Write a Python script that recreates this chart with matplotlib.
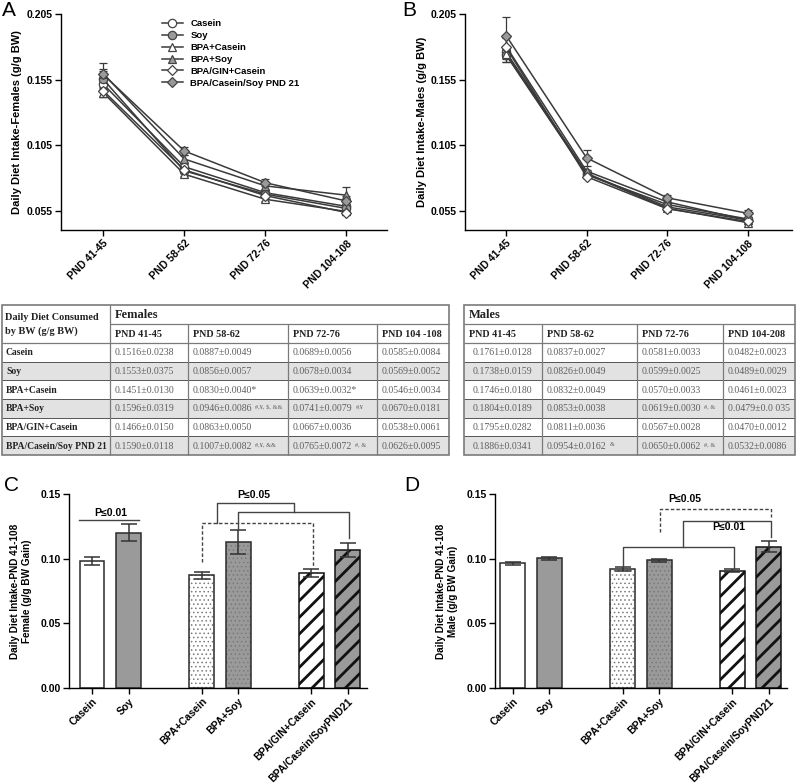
import matplotlib
matplotlib.use("Agg")
import matplotlib.pyplot as plt
from matplotlib.lines import Line2D
from matplotlib.patches import Rectangle
import numpy as np

plt.rcParams['font.family'] = ['Liberation Sans', 'DejaVu Sans']
plt.rcParams['font.weight'] = 'bold'
plt.rcParams['axes.linewidth'] = 1.0

# ---------------- data ----------------
periods = ["PND 41-45", "PND 58-62", "PND 72-76", "PND 104-108"]
groups = ["Casein", "Soy", "BPA+Casein", "BPA+Soy", "BPA/GIN+Casein", "BPA/Casein/Soy PND 21"]

# Panel A (females) means and plotted error bars
fem_casein = [0.1516, 0.0887, 0.0689, 0.0585]
fem_soy = [0.1553, 0.0856, 0.0678, 0.0569]
fem_bpa_casein = [0.1451, 0.0830, 0.0639, 0.0546]
fem_bpa_soy = [0.1596, 0.0946, 0.0741, 0.0670]
fem_bpa_gin = [0.1466, 0.0863, 0.0667, 0.0538]
fem_bpa_pnd21 = [0.1590, 0.1007, 0.0765, 0.0626]
fem_err = [[0.004, 0.002, 0.002, 0.003],
           [0.006, 0.002, 0.0012, 0.002],
           [0.0035, 0.0015, 0.0012, 0.0012],
           [0.008, 0.003, 0.003, 0.0065],
           [0.005, 0.002, 0.0013, 0.002],
           [0.004, 0.003, 0.0025, 0.0035]]

# Panel B (males)
male_casein = [0.1761, 0.0837, 0.0581, 0.0482]
male_soy = [0.1738, 0.0826, 0.0599, 0.0489]
male_bpa_casein = [0.1746, 0.0832, 0.0570, 0.0461]
male_bpa_soy = [0.1804, 0.0853, 0.0619, 0.0479]
male_bpa_gin = [0.1795, 0.0811, 0.0567, 0.0470]
male_bpa_pnd21 = [0.1886, 0.0954, 0.0650, 0.0532]
male_err = [[0.004, 0.001, 0.001, 0.0008],
            [0.005, 0.0015, 0.0008, 0.001],
            [0.006, 0.0015, 0.001, 0.0008],
            [0.006, 0.0012, 0.001, 0.0012],
            [0.009, 0.0012, 0.0009, 0.0004],
            [0.014, 0.006, 0.002, 0.0028]]

# Tables
fem_table_header = ["PND 41-45", "PND 58-62", "PND 72-76", "PND 104 -108"]
male_table_header = ["PND 41-45", "PND 58-62", "PND 72-76", "PND 104-208"]
fem_table = [
    ["0.1516±0.0238", "0.0887±0.0049", "0.0689±0.0056", "0.0585±0.0084"],
    ["0.1553±0.0375", "0.0856±0.0057", "0.0678±0.0034", "0.0569±0.0052"],
    ["0.1451±0.0130", "0.0830±0.0040*", "0.0639±0.0032*", "0.0546±0.0034"],
    ["0.1596±0.0319", "0.0946±0.0086", "0.0741±0.0079", "0.0670±0.0181"],
    ["0.1466±0.0150", "0.0863±0.0050", "0.0667±0.0036", "0.0538±0.0061"],
    ["0.1590±0.0118", "0.1007±0.0082", "0.0765±0.0072", "0.0626±0.0095"],
]
fem_sup = [["", "", "", ""], ["", "", "", ""], ["", "", "", ""],
           ["", "#,¥, $, &&", "#,¥", ""], ["", "", "", ""],
           ["", "#,¥, &&", "#, &", ""]]
male_table = [
    ["0.1761±0.0128", "0.0837±0.0027", "0.0581±0.0033", "0.0482±0.0023"],
    ["0.1738±0.0159", "0.0826±0.0049", "0.0599±0.0025", "0.0489±0.0029"],
    ["0.1746±0.0180", "0.0832±0.0049", "0.0570±0.0033", "0.0461±0.0023"],
    ["0.1804±0.0189", "0.0853±0.0038", "0.0619±0.0030", "0.0479±0.0 035"],
    ["0.1795±0.0282", "0.0811±0.0036", "0.0567±0.0028", "0.0470±0.0012"],
    ["0.1886±0.0341", "0.0954±0.0162", "0.0650±0.0062", "0.0532±0.0086"],
]
male_sup = [["", "", "", ""], ["", "", "", ""], ["", "", "", ""],
            ["", "", "#, &", ""], ["", "", "", ""],
            ["", "&", "#, &", ""]]

# Bars (panels C, D)
bar_labels = ["Casein", "Soy", "BPA+Casein", "BPA+Soy", "BPA/GIN+Casein", "BPA/Casein/SoyPND21"]
fem_bar = [0.098, 0.120, 0.087, 0.113, 0.0887, 0.1065]
fem_bar_err = [0.003, 0.0065, 0.0025, 0.0093, 0.0032, 0.0054]
male_bar = [0.0964, 0.1002, 0.0920, 0.0988, 0.0907, 0.1093]
male_bar_err = [0.0012, 0.0009, 0.0016, 0.0011, 0.0010, 0.0045]

# ---------------- figure ----------------
W, H = 800, 784
fig = plt.figure(figsize=(8, 7.84), dpi=100)


def rect(l, t, r, b):
    return [l / W, 1 - b / H, (r - l) / W, (b - t) / H]


marker_styles = [('o', 'white', 6), ('o', '#9a9a9a', 6), ('^', 'white', 6),
                 ('^', '#9a9a9a', 6), ('D', 'white', 5), ('D', '#9a9a9a', 5)]
LC = '#3a3a3a'


def style_axes(ax, labelsize=7.5):
    ax.spines['top'].set_visible(False)
    ax.spines['right'].set_visible(False)
    ax.tick_params(direction='out', length=4, width=1, labelsize=labelsize, pad=2)
    for lbl in ax.get_xticklabels() + ax.get_yticklabels():
        lbl.set_fontweight('bold')


def line_panel(ax, series, errs, ylabel, xlim):
    x = np.arange(len(periods))
    for g, m, e, (mk, fc, ms) in zip(groups, series, errs, marker_styles):
        ax.errorbar(x, m, yerr=e, color=LC, lw=1.1, marker=mk, ms=ms, mfc=fc,
                    mec='#444444', mew=0.9, ecolor=LC, elinewidth=0.9,
                    capsize=3, capthick=0.9, label=g)
    ax.set_xlim(*xlim)
    ax.set_ylim(0.0405, 0.205)
    ax.set_yticks([0.055, 0.105, 0.155, 0.205])
    ax.set_yticklabels(['0.055', '0.105', '0.155', '0.205'])
    ax.set_xticks(x)
    ax.set_xticklabels(periods, rotation=45, ha='right', rotation_mode='anchor')
    ax.set_ylabel(ylabel, fontsize=8, fontweight='bold', labelpad=3)
    style_axes(ax)


axA = fig.add_axes(rect(61, 14, 387, 230))
line_panel(axA, [fem_casein, fem_soy, fem_bpa_casein, fem_bpa_soy, fem_bpa_gin, fem_bpa_pnd21],
           fem_err, "Daily Diet Intake-Females (g/g BW)", (-0.52, 3.5))
handles = [Line2D([], [], color=LC, lw=1.1, marker=mk, ms=ms, mfc=fc, mec='#444444', mew=0.9)
           for (mk, fc, ms) in marker_styles]
axA.legend(handles, groups, loc='upper left', bbox_to_anchor=(0.31, 0.975), frameon=False,
           borderaxespad=0, borderpad=0, handlelength=2.2, handletextpad=0.8,
           labelspacing=0.3, prop={'size': 6.8, 'weight': 'bold'})

axB = fig.add_axes(rect(465, 14, 792, 230))
line_panel(axB, [male_casein, male_soy, male_bpa_casein, male_bpa_soy, male_bpa_gin, male_bpa_pnd21],
           male_err, "Daily Diet Intake-Males (g/g BW)", (-0.51, 3.55))

# ---------------- bar panels ----------------
bar_pos = [0, 1, 3, 4, 6, 7]
fills = ['white', '#9a9a9a', 'white', '#9a9a9a', 'white', '#9a9a9a']
hatches = [None, None, '....', '....', '//', '//']


def bar_panel(ax, vals, errs, ylabel, xlim):
    for p, v, f, h in zip(bar_pos, vals, fills, hatches):
        if h == '....':
            b = ax.bar(p, v, width=0.68, color=f, edgecolor='#7a7a7a', linewidth=0, hatch=h, zorder=2)
            for patch in b:
                if hasattr(patch, 'set_hatch_linewidth'):
                    patch.set_hatch_linewidth(0.6)
            ax.bar(p, v, width=0.68, fill=False, edgecolor='#2a2a2a', linewidth=1.1, zorder=3)
        elif h == '//':
            b = ax.bar(p, v, width=0.68, color=f, edgecolor='#111111', linewidth=1.1, hatch=h, zorder=2)
            for patch in b:
                if hasattr(patch, 'set_hatch_linewidth'):
                    patch.set_hatch_linewidth(2.0)
        else:
            ax.bar(p, v, width=0.68, color=f, edgecolor='#2a2a2a', linewidth=1.1, zorder=2)
    ax.errorbar(bar_pos, vals, yerr=errs, fmt='none', ecolor='#333333', elinewidth=1.1,
                capsize=6, capthick=1.1, zorder=4)
    ax.set_xlim(*xlim)
    ax.set_ylim(0, 0.15)
    ax.set_yticks([0.0, 0.05, 0.10, 0.15])
    ax.set_yticklabels(['0.00', '0.05', '0.10', '0.15'])
    ax.set_xticks(bar_pos)
    ax.set_xticklabels(bar_labels, rotation=45, ha='right', rotation_mode='anchor')
    ax.set_ylabel(ylabel, fontsize=7.2, fontweight='bold', labelpad=6, linespacing=1.2)
    style_axes(ax)


def bracket(ax, x0, x1, y0a, ytop, y0b, dashed=False):
    ls = (0, (2.5, 1.5)) if dashed else '-'
    ax.plot([x0, x0, x1, x1], [y0a, ytop, ytop, y0b], color='#444444', lw=1.0,
            ls=ls, clip_on=False, zorder=5)


axC = fig.add_axes(rect(69, 494, 367, 688))
bar_panel(axC, fem_bar, fem_bar_err, "Daily Diet Intake-PND 41-108\nFemale (g/g BW Gain)", (-0.63, 7.53))
axC.plot([-0.36, 1.3], [0.130, 0.130], color='#444444', lw=1.0, zorder=5)
axC.text(0.5, 0.1315, "P≤0.01", ha='center', va='bottom', fontsize=7.5, fontweight='bold')
bracket(axC, 3.0, 6.05, 0.0977, 0.1276, 0.0938, dashed=True)
bracket(axC, 3.41, 5.53, 0.1276, 0.1428, 0.1364)
bracket(axC, 4.01, 7.05, 0.1222, 0.1364, 0.1158)
axC.text(4.42, 0.1455, "P≤0.05", ha='center', va='bottom', fontsize=7.5, fontweight='bold')

axD = fig.add_axes(rect(495, 494, 787, 688))
bar_panel(axD, male_bar, male_bar_err, "Daily Diet Intake-PND 41-108\nMale (g/g BW Gain)", (-0.49, 7.5))
bracket(axD, 4.03, 7.06, 0.1209, 0.1382, 0.1325, dashed=True)
bracket(axD, 3.0, 6.04, 0.0938, 0.1093, 0.0918)
bracket(axD, 4.65, 7.06, 0.1093, 0.1292, 0.1169)
axD.text(4.71, 0.1425, "P≤0.05", ha='center', va='bottom', fontsize=7.5, fontweight='bold')
axD.text(5.9, 0.1205, "P≤0.01", ha='center', va='bottom', fontsize=7.5, fontweight='bold')

# ---------------- panel letters ----------------
for lx, ly, s in [(2, 1, 'A'), (402, 1, 'B'), (4, 476, 'C'), (404, 476, 'D')]:
    fig.text(lx / W, 1 - ly / H, s, fontsize=15, fontweight='normal', va='top', ha='left')

# ---------------- tables ----------------
tax = fig.add_axes([0, 0, 1, 1], zorder=-1)
tax.set_xlim(0, W)
tax.set_ylim(H, 0)
tax.axis('off')

SERIF = ['Liberation Serif', 'DejaVu Serif']
T_TOP, T_H1, T_H2, T_BOT = 305, 324, 343, 455
ROW_H = (T_BOT - T_H2) / 6
BORDER = '#7a7a7a'
SHADE = '#e2e2e2'


def hline(x0, x1, y, color=BORDER, lw=0.9):
    tax.plot([x0, x1], [y, y], color=color, lw=lw, solid_capstyle='butt')


def vline(x, y0, y1, color=BORDER, lw=0.9):
    tax.plot([x, x], [y0, y1], color=color, lw=lw, solid_capstyle='butt')


def draw_table(cols, title, headers, cells, sups, label_col, first_indent=5):
    x0, x1 = cols[0], cols[-1]
    for i in range(6):
        y = T_H2 + i * ROW_H
        if i % 2 == 1:
            tax.add_patch(Rectangle((x0, y), x1 - x0, ROW_H, color=SHADE, lw=0, zorder=0))
        if i > 0:
            hline(x0, x1, y, color='#555555', lw=0.7)
    tax.add_patch(Rectangle((x0, T_TOP), x1 - x0, T_BOT - T_TOP, fill=False,
                            edgecolor=BORDER, lw=1.2, zorder=3))
    c0 = cols[1] if label_col else cols[0]
    hline(c0, x1, T_H1)
    hline(x0, x1, T_H2)
    if label_col:
        vline(cols[1], T_TOP, T_BOT)
    data_cols = cols[1:] if label_col else cols
    for c in data_cols[1:-1]:
        vline(c, T_H1, T_BOT)
    tax.text(c0 + 5, (T_TOP + T_H1) / 2 + 0.5, title, family=SERIF, fontsize=9,
             fontweight='bold', va='center', ha='left', color='#222222')
    for j, h in enumerate(headers):
        tax.text(data_cols[j] + 5, (T_H1 + T_H2) / 2 + 1, h, family=SERIF, fontsize=7.3,
                 fontweight='bold', va='center', ha='left', color='#222222')
    for i, row in enumerate(cells):
        yc = T_H2 + (i + 0.5) * ROW_H + 0.5
        if label_col:
            tax.text(cols[0] + 4, yc, groups[i], family=SERIF, fontsize=6.9,
                     fontweight='bold', va='center', ha='left', color='#222222')
        for j, s in enumerate(row):
            ind = first_indent if j == 0 else 5
            t = tax.text(data_cols[j] + ind, yc, s, family=SERIF, fontsize=7.1,
                         fontweight='normal', va='center', ha='left', color='#606060')
            if sups[i][j]:
                tax.annotate(sups[i][j], xy=(1, 0.95), xycoords=t, xytext=(2, 0),
                             textcoords='offset points', family=SERIF, fontsize=4.5,
                             fontweight='normal', va='top', ha='left', color='#606060')


draw_table([2, 110, 188, 288, 377, 449], "Females", fem_table_header, fem_table, fem_sup, True)
tax.text(5, 317, "Daily Diet Consumed", family=SERIF, fontsize=7.4, fontweight='bold',
         va='center', ha='left', color='#222222')
tax.text(5, 331, "by BW (g/g BW)", family=SERIF, fontsize=7.4, fontweight='bold',
         va='center', ha='left', color='#222222')
draw_table([464, 542, 637, 723, 795], "Males", male_table_header, male_table, male_sup, False,
           first_indent=9)

fig.savefig("out.png", dpi=100)
